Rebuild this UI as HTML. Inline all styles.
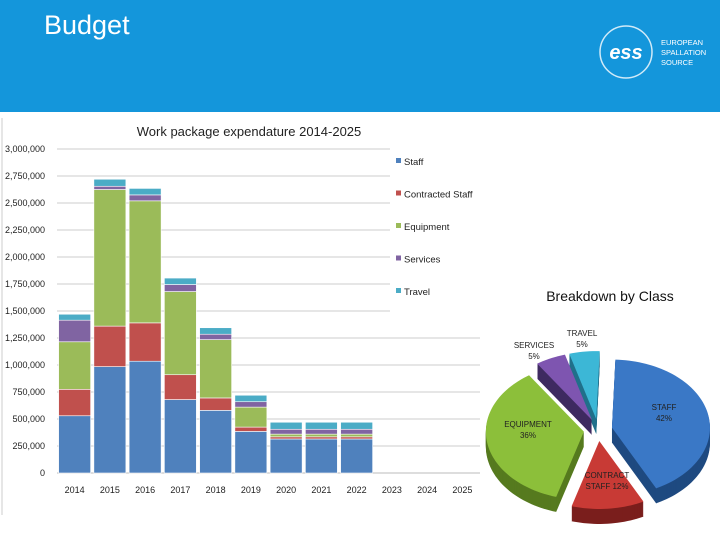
<!DOCTYPE html>
<html><head><meta charset="utf-8"><style>
body{margin:0;width:720px;height:540px;background:#fff;overflow:hidden;font-family:"Liberation Sans",sans-serif;position:relative}
#hdr{position:absolute;left:0;top:0;width:720px;height:112px;background:#1496db}
#title{position:absolute;left:44px;top:10px;color:#fff;font-size:27px}
svg{position:absolute;left:0;top:0}
</style></head><body>
<div id="hdr"></div>
<div id="title">Budget</div>
<svg width="720" height="540" id="s">
<g>
<circle cx="626" cy="52" r="26" fill="none" stroke="#fff" stroke-width="1.5" opacity="0.8"/>
<text x="626" y="59" fill="#fff" font-size="20" font-weight="bold" text-anchor="middle" font-style="italic">ess</text>
<text x="661" y="45" fill="#fff" font-size="7.5">EUROPEAN</text>
<text x="661" y="55" fill="#fff" font-size="7.5">SPALLATION</text>
<text x="661" y="65" fill="#fff" font-size="7.5">SOURCE</text>
</g>
<line x1="2" y1="118" x2="2" y2="515" stroke="#ccc"/>
</svg>
<script>
const categories=["2014","2015","2016","2017","2018","2019","2020","2021","2022","2023","2024","2025"];
const staff=[530000,985000,1035000,680000,580000,385000,315000,315000,315000,0,0,0];
const contracted=[245000,375000,355000,230000,115000,40000,20000,20000,20000,0,0,0];
const equipment=[440000,1265000,1130000,770000,540000,185000,25000,25000,25000,0,0,0];
const services=[200000,30000,55000,65000,50000,50000,45000,45000,45000,0,0,0];
const travel=[55000,65000,60000,60000,60000,60000,65000,65000,65000,0,0,0];
const yTicks=[0,250000,500000,750000,1000000,1250000,1500000,1750000,2000000,2250000,2500000,2750000,3000000];
const seriesNames=["Staff","Contracted Staff","Equipment","Services","Travel"];
const pieLabels=["STAFF","CONTRACT","EQUIPMENT","SERVICES","TRAVEL"];
const pieValues=[42,12,36,5,5];

const NS="http://www.w3.org/2000/svg",svg=document.getElementById('s');
function mk(t,a,p){const e=document.createElementNS(NS,t);for(const k in a)e.setAttribute(k,a[k]);(p||svg).appendChild(e);return e;}
const x0=57,x1=480,y0=473,y1=149,yMax=3000000;
const bw=(x1-x0)/categories.length;
const y=v=>y0-(v/yMax)*(y0-y1);
const x=i=>x0+bw*i+bw/2;
const colors=["#4f81bd","#c0504d","#9bbb59","#8064a2","#4bacc6"];
const series=[staff,contracted,equipment,services,travel];

let t=mk('text',{x:249,y:136,'font-size':13,'text-anchor':'middle',fill:'#222'});
t.textContent="Work package expendature 2014-2025";
yTicks.forEach(v=>{
 const g=mk('line',{x1:x0,x2:v>=1500000?390:x1,y1:y(v),y2:y(v),stroke:v===0?'#bbb':'#ccc'});
 
 const l=mk('text',{x:45,y:y(v)+3,'font-size':9,'text-anchor':'end',fill:'#222'});
 
 l.textContent=v.toLocaleString('en-US');
});
categories.forEach((c,i)=>{
 let base=0;
 series.forEach((s,k)=>{
  if(s[i]>0){const r=mk('rect',{x:x(i)-16,y:y(base+s[i]),width:32,height:y(base)-y(base+s[i]),fill:colors[k],stroke:'#fff','stroke-width':0.6});
  }
  base+=s[i];
 });
 const l=mk('text',{x:x(i),y:493,'font-size':9,'text-anchor':'middle',fill:'#222'});
 l.textContent=c;
});
seriesNames.forEach((n,k)=>{
 const g=mk('g',{});
 mk('rect',{x:396,y:158+k*32.5,width:5,height:5,fill:colors[k]},g);
 const tt=mk('text',{x:404,y:165+k*32.5,'font-size':9.5,fill:'#222'},g);tt.textContent=n;
});
// pie
const pt=mk('text',{x:610,y:301,'font-size':14,'text-anchor':'middle',fill:'#111'});
pt.textContent="Breakdown by Class";
const cx=598,cy=430,rx=98,ry=68,depth=15,ex=11;
const pc=["#3a78c6","#c83a35","#8cbf3a","#7e55b0","#3cb7d6"],dc=["#1f4a80","#7a1e1c","#567a1f","#3e2a60","#20708a"];
const total=pieValues.reduce((a,b)=>a+b,0);
let ang=-88;const sl=[];
pieValues.forEach((v,i)=>{const a0=ang,a1=ang+v/total*360;ang=a1;sl.push([a0,a1]);});
const rad=d=>d*Math.PI/180;
function path(i,dy){const [a0,a1]=sl[i],m=rad((a0+a1)/2),ox=cx+ex*Math.cos(m)*1.3,oy=cy+ex*Math.sin(m)+dy;
 let d=`M${ox},${oy}`;for(let a=a0;a<=a1+0.01;a+=2){const aa=Math.min(a,a1);d+=`L${ox+rx*Math.cos(rad(aa))},${oy+ry*Math.sin(rad(aa))}`;}
 d+=`L${ox+rx*Math.cos(rad(a1))},${oy+ry*Math.sin(rad(a1))}Z`;return d;}
for(let dy=depth;dy>0;dy-=1)pieValues.forEach((v,i)=>{const p=mk('path',{d:path(i,dy),fill:dc[i]});});
pieValues.forEach((v,i)=>{const p=mk('path',{d:path(i,0),fill:pc[i]});});
const lab=[[664,410,"STAFF",pieValues[0]+"%"],[607,478,"CONTRACT","STAFF "+pieValues[1]+"%"],[528,427,"EQUIPMENT",pieValues[2]+"%"],[534,348,"SERVICES",pieValues[3]+"%"],[582,336,"TRAVEL",pieValues[4]+"%"]];
lab.forEach(l=>{const g=mk('g',{});
 [l[2],l[3]].forEach((s,j)=>{const tt=mk('text',{x:l[0],y:l[1]+j*11,'font-size':8,'text-anchor':'middle',fill:'#222'},g);tt.textContent=s;});});
</script>
</body></html>
